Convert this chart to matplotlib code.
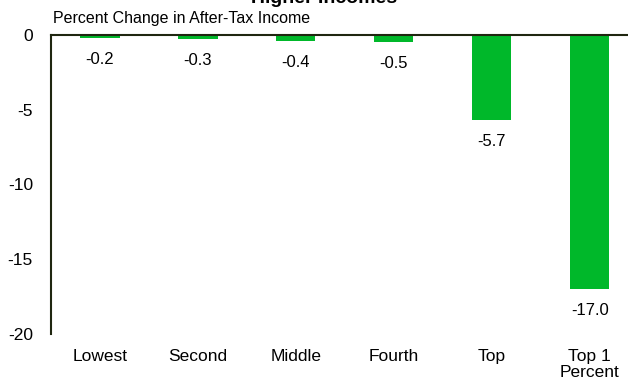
import matplotlib.pyplot as plt

plt.rcParams['font.family'] = ['Liberation Sans', 'DejaVu Sans']

categories = ["Lowest", "Second", "Middle", "Fourth", "Top", "Top 1\nPercent"]
changes = [-0.2, -0.3, -0.4, -0.5, -5.7, -17.0]
y_ticks = [0, -5, -10, -15, -20]

fig = plt.figure(figsize=(6.28, 3.81), dpi=100)
ax = fig.add_axes([51 / 628, 1 - 334 / 381, 1 - 51 / 628, 299 / 381])

x = list(range(len(categories)))
ax.bar(x, changes, width=0.4, color="#00B82A")

for xi, v in zip(x, changes):
    ax.annotate(f"{v:.1f}", (xi, v), xytext=(0, -10), textcoords="offset points",
                ha="center", va="top", fontsize=12)

ax.set_ylim(-20, 0)
ax.set_xlim(-0.5, 5.39)
ax.set_yticks(y_ticks)
ax.set_yticklabels([str(t) for t in y_ticks], fontsize=12.5)
ax.set_xticks(x)
ax.set_xticklabels(categories, fontsize=12.5, linespacing=1.1)
ax.tick_params(axis="both", length=0)
ax.tick_params(axis="y", pad=13)
ax.tick_params(axis="x", pad=11)

for side in ["right", "bottom"]:
    ax.spines[side].set_visible(False)
for side in ["left", "top"]:
    ax.spines[side].set_color("#1f2610")
    ax.spines[side].set_linewidth(1.5)

fig.text(53 / 628, 1 - 19 / 381, "Percent Change in After-Tax Income",
         fontsize=11.5, ha="left", va="center")
fig.text(324 / 628, 1 - 3 / 381, "Higher Incomes", fontsize=14,
         fontweight="bold", ha="center", va="baseline")

fig.savefig("out.png", dpi=100)
